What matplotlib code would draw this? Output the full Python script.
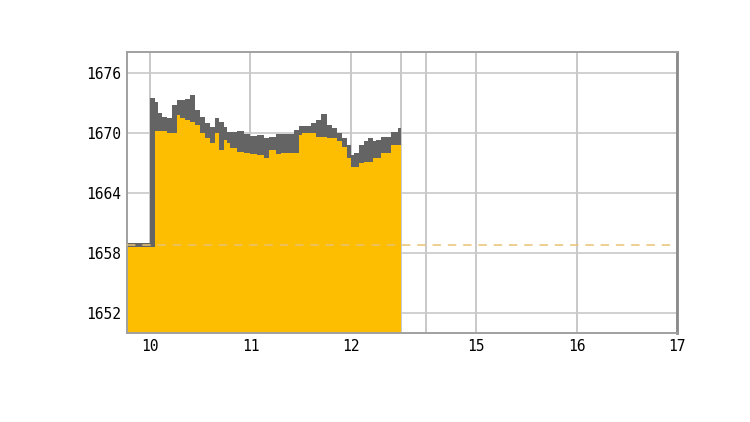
import matplotlib
matplotlib.use("Agg")
import matplotlib.pyplot as plt
import numpy as np

# ---- data ----
times = ["09:46", "10:00", "10:03", "10:05", "10:07", "10:10", "10:13", "10:16",
         "10:18", "10:21", "10:24", "10:27", "10:30", "10:33", "10:36", "10:39",
         "10:41", "10:44", "10:46", "10:48", "10:52", "10:56", "11:00", "11:04",
         "11:08", "11:11", "11:15", "11:18", "11:26", "11:29", "11:31", "11:36",
         "11:39", "11:42", "11:46", "11:49", "11:52", "11:55", "11:58", "12:00",
         "12:02", "12:05", "12:08", "12:10", "12:13", "12:15", "12:18", "12:24",
         "12:28", "12:30"]
high = [1659.0, 1673.5, 1673.1, 1672.0, 1671.6, 1671.5, 1672.8, 1673.3,
        1673.3, 1673.4, 1673.8, 1672.3, 1671.6, 1671.0, 1670.6, 1671.5,
        1671.1, 1670.6, 1670.1, 1670.1, 1670.2, 1669.9, 1669.7, 1669.8,
        1669.5, 1669.6, 1669.9, 1669.9, 1670.3, 1670.7, 1670.7, 1671.0,
        1671.3, 1671.9, 1670.8, 1670.5, 1670.0, 1669.5, 1668.8, 1667.8,
        1668.0, 1668.8, 1669.2, 1669.5, 1669.2, 1669.3, 1669.6, 1670.1,
        1670.5, 1670.5]
low = [1658.6, 1658.6, 1670.2, 1670.2, 1670.2, 1670.0, 1670.0, 1671.8,
       1671.5, 1671.3, 1671.1, 1670.8, 1670.0, 1669.5, 1669.0, 1670.0,
       1668.3, 1669.3, 1669.0, 1668.5, 1668.1, 1668.0, 1667.9, 1667.8,
       1667.5, 1668.3, 1667.9, 1668.0, 1668.0, 1669.8, 1670.0, 1670.0,
       1669.6, 1669.6, 1669.5, 1669.5, 1669.2, 1668.6, 1667.5, 1666.6,
       1666.6, 1667.0, 1667.1, 1667.1, 1667.5, 1667.5, 1668.0, 1668.8,
       1668.8, 1668.8]
prev_close = 1658.8
y_ticks = [1652, 1658, 1664, 1670, 1676]
x_tick_hours = [10, 11, 12, 15, 16, 17]
x_tick_labels = ["10", "11", "12", "15", "16", "17"]
break_hours = [12.5, 14.5]


def to_axis(t):
    t = np.asarray(t, dtype=float)
    return np.where(t <= 12.5, t, t - 1.75)


hours = np.array([int(s[:2]) + int(s[3:]) / 60 for s in times])
x = to_axis(hours)

fig = plt.figure(figsize=(7.5, 4.22), dpi=100)
ax = fig.add_axes([127 / 750, 1 - 333 / 422, 550 / 750, 281 / 422])

ymin, ymax = 1650.0, 1678.1
ax.set_xlim(float(to_axis(9.77)), float(to_axis(17)))
ax.set_ylim(ymin, ymax)

grid_c = "#c8c8c8"
for yv in y_ticks:
    ax.axhline(yv, color=grid_c, lw=1.2, zorder=1)
for xv in list(to_axis(x_tick_hours)) + list(to_axis(break_hours)):
    ax.axvline(xv, color=grid_c, lw=1.4, zorder=1)

ax.fill_between(x, ymin, low, step="post", color="#FDBD00", lw=0, zorder=2)
ax.fill_between(x, low, high, step="post", color="#646464", lw=0, zorder=2)

ax.axhline(prev_close, color="#E9C274", lw=1.1, ls=(0, (5.5, 4.5)), zorder=3)

ax.set_yticks(y_ticks)
ax.set_yticklabels([str(v) for v in y_ticks])
ax.set_xticks(to_axis(x_tick_hours))
ax.set_xticklabels(x_tick_labels)
ax.tick_params(length=0, pad=4, labelsize=10.5, colors="black")
for lab in ax.get_xticklabels() + ax.get_yticklabels():
    lab.set_family("DejaVu Sans Mono")

for side in ["left", "bottom", "top"]:
    ax.spines[side].set_color("#a0a0a0")
    ax.spines[side].set_linewidth(1.4)
ax.spines["right"].set_color("#8a8a8a")
ax.spines["right"].set_linewidth(2)

fig.savefig("out.png", dpi=100)
